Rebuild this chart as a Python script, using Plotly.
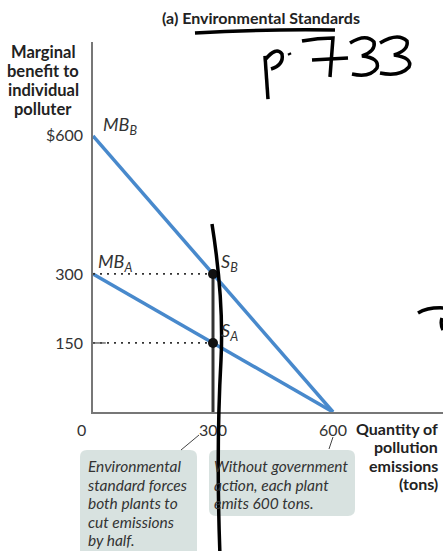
import plotly.graph_objects as go

# ---- data ----
quantity = [0, 600]
mb_a = [300, 0]
mb_b = [600, 0]
standard_q = 300
s_points_y = [300, 150]
s_labels = ["S<sub>B</sub>", "S<sub>A</sub>"]
ytick_vals = [150, 300, 600]
ytick_text = ["150", "300", "$600"]
xtick_vals = [300, 600]
xtick_text = ["300", "600"]

W, H = 443, 551
PL, PR, PT, PB = 93, 443, 42, 412          # plot area in window pixels
X_MAX, Y_MAX = 875, 804
FONT = "Lato"
BLUE = "#4889cc"
TXT = "#333333"

def px(x, y):
    """window pixel -> paper coords (decorations/text placement only)"""
    return (x - PL) / (PR - PL), (PB - y) / (PB - PT)

def path_px(cmds):
    out = []
    for c in cmds:
        if isinstance(c, str):
            out.append(c)
        else:
            xx, yy = px(*c)
            out.append(f"{xx:.4f},{yy:.4f}")
    return " ".join(out)

fig = go.Figure()

# MB lines
fig.add_trace(go.Scatter(x=quantity, y=mb_b, mode="lines",
                         line=dict(color=BLUE, width=3.5), hoverinfo="skip"))
fig.add_trace(go.Scatter(x=quantity, y=mb_a, mode="lines",
                         line=dict(color=BLUE, width=3.5), hoverinfo="skip"))
# dotted guides
for yv in s_points_y:
    fig.add_trace(go.Scatter(x=[0, standard_q], y=[yv, yv], mode="lines",
                             line=dict(color=TXT, width=1.8, dash="2px,5px"),
                             hoverinfo="skip"))
fig.add_trace(go.Scatter(x=[0, 32], y=[s_points_y[1]] * 2, mode="lines",
                         line=dict(color="#555", width=1.3), hoverinfo="skip"))
# vertical standard line
fig.add_trace(go.Scatter(x=[standard_q, standard_q], y=[max(s_points_y), 0], mode="lines",
                         line=dict(color="#333", width=3), hoverinfo="skip"))
# points
fig.add_trace(go.Scatter(x=[standard_q] * 2, y=s_points_y, mode="markers",
                         marker=dict(color="#111", size=10), hoverinfo="skip"))

annotations = []
# curve labels
annotations.append(dict(x=0, y=mb_b[0], xref="x", yref="y", text="<i>MB<sub>B</sub></i>",
                        showarrow=False, xanchor="left", yanchor="middle",
                        xshift=8, yshift=10, font=dict(family=FONT, size=18, color=TXT)))
annotations.append(dict(x=0, y=mb_a[0], xref="x", yref="y", text="<i>MB<sub>A</sub></i>",
                        showarrow=False, xanchor="left", yanchor="middle",
                        xshift=3, yshift=11, font=dict(family=FONT, size=18, color=TXT)))
for yv, lab in zip(s_points_y, s_labels):
    annotations.append(dict(x=standard_q, y=yv, xref="x", yref="y", text=f"<i>{lab}</i>",
                            showarrow=False, xanchor="left", yanchor="middle",
                            xshift=6, yshift=11, font=dict(family=FONT, size=18, color=TXT)))
# origin label
annotations.append(dict(x=0, y=0, xref="x", yref="y", text="0", showarrow=False,
                        xanchor="center", yanchor="top", xshift=-12, yshift=-6,
                        font=dict(family=FONT, size=16, color=TXT)))

def lines_block(lines, x, y0, step, xanchor, font):
    for i, ln in enumerate(lines):
        ax, ay = px(x, y0 + i * step)
        annotations.append(dict(x=ax, y=ay, xref="paper", yref="paper", text=ln,
                                showarrow=False, xanchor=xanchor, yanchor="middle",
                                font=font))

# title
tx, ty = px(261, 17)
annotations.append(dict(x=tx, y=ty, xref="paper", yref="paper",
                        text="<b>(a) Environmental Standards</b>", showarrow=False,
                        xanchor="center", yanchor="middle",
                        font=dict(family=FONT, size=16, color="#222")))
lines_block(["<b>Marginal</b>", "<b>benefit to</b>", "<b>individual</b>", "<b>polluter</b>"],
            43, 52, 19, "center", dict(family=FONT, size=16.5, color="#222"))
lines_block(["<b>Quantity of</b>", "<b>pollution</b>", "<b>emissions</b>", "<b>(tons)</b>"],
            440, 428, 18.6, "right", dict(family=FONT, size=16, color="#222"))

shapes = []
def rounded_box(x0, y0, x1, y1, r=7):
    return path_px(["M", (x0 + r, y0), "L", (x1 - r, y0), "Q", (x1, y0), (x1, y0 + r),
                    "L", (x1, y1 - r), "Q", (x1, y1), (x1 - r, y1),
                    "L", (x0 + r, y1), "Q", (x0, y1), (x0, y1 - r),
                    "L", (x0, y0 + r), "Q", (x0, y0), (x0 + r, y0), "Z"])

BOX = "#d8e2e0"
shapes.append(dict(type="path", xref="paper", yref="paper", path=rounded_box(80, 450, 197, 565),
                   fillcolor=BOX, line=dict(width=0), layer="below"))
shapes.append(dict(type="path", xref="paper", yref="paper", path=rounded_box(209, 450, 355, 516),
                   fillcolor=BOX, line=dict(width=0), layer="below"))
# connectors
for (a, b) in [((181, 450), (199, 435)), ((329, 449), (333, 437))]:
    p0, p1 = px(*a), px(*b)
    shapes.append(dict(type="line", xref="paper", yref="paper", x0=p0[0], y0=p0[1],
                       x1=p1[0], y1=p1[1], line=dict(color="#444", width=1)))

BXT = dict(family=FONT, size=15.5, color=TXT)
lines_block(["<i>Environmental</i>", "<i>standard forces</i>", "<i>both plants to</i>",
             "<i>cut emissions</i>", "<i>by half.</i>"], 86, 466, 18.6, "left", BXT)
lines_block(["<i>Without government</i>", "<i>action, each plant</i>", "<i>emits 600 tons.</i>"],
            212, 466, 18.6, "left", BXT)

# ---- handwritten ink marks (decoration) ----
INK = dict(color="#000", width=3.5)
ink_paths = [
    # long vertical stroke
    ["M", (212, 224), "Q", (224, 300), (221, 360), "Q", (216, 450), (220, 556)],
    # underline under title
    ["M", (195, 33), "Q", (260, 29), (335, 30)],
    # p
    ["M", (265, 56), "L", (268, 99)],
    ["M", (265, 60), "Q", (276, 46), (282, 54), "Q", (284, 65), (271, 69)],
    # dot
    ["M", (289, 53), "L", (290, 55)],
    # 7
    ["M", (302, 41), "Q", (318, 38), (333, 38), "L", (330, 77)],
    ["M", (312, 60), "L", (348, 58)],
    # 3
    ["M", (350, 43), "Q", (366, 33), (374, 42), "Q", (376, 51), (362, 56),
     "Q", (380, 58), (377, 68), "Q", (370, 78), (352, 74)],
    # 3
    ["M", (380, 43), "Q", (398, 32), (407, 41), "Q", (409, 50), (394, 55),
     "Q", (413, 58), (409, 67), "Q", (400, 77), (380, 73)],
    # mark at right edge
    ["M", (418, 313), "Q", (428, 307), (445, 308)],
    ["M", (442, 318), "Q", (440, 324), (443, 330)],
]
for p in ink_paths:
    shapes.append(dict(type="path", xref="paper", yref="paper", path=path_px(p),
                       line=INK, layer="above"))

fig.update_layout(
    width=W, height=H,
    margin=dict(l=PL, r=W - PR, t=PT, b=H - PB),
    paper_bgcolor="white", plot_bgcolor="white", showlegend=False,
    annotations=annotations, shapes=shapes,
    xaxis=dict(range=[0, X_MAX], showgrid=False, zeroline=False, showline=True,
               linecolor="#777", linewidth=1.5, tickvals=xtick_vals, ticktext=xtick_text,
               ticks="outside", ticklen=3, tickcolor="rgba(0,0,0,0)",
               tickfont=dict(family=FONT, size=16, color=TXT), fixedrange=True),
    yaxis=dict(range=[0, Y_MAX], showgrid=False, zeroline=False, showline=True,
               linecolor="#777", linewidth=1.5, tickvals=ytick_vals, ticktext=ytick_text,
               ticks="outside", ticklen=5, tickcolor="rgba(0,0,0,0)",
               tickfont=dict(family=FONT, size=16, color=TXT), fixedrange=True),
)
fig.write_html("out.html", config={"displayModeBar": False},
               post_script="document.body.style.margin='0';document.body.style.overflow='hidden';")
